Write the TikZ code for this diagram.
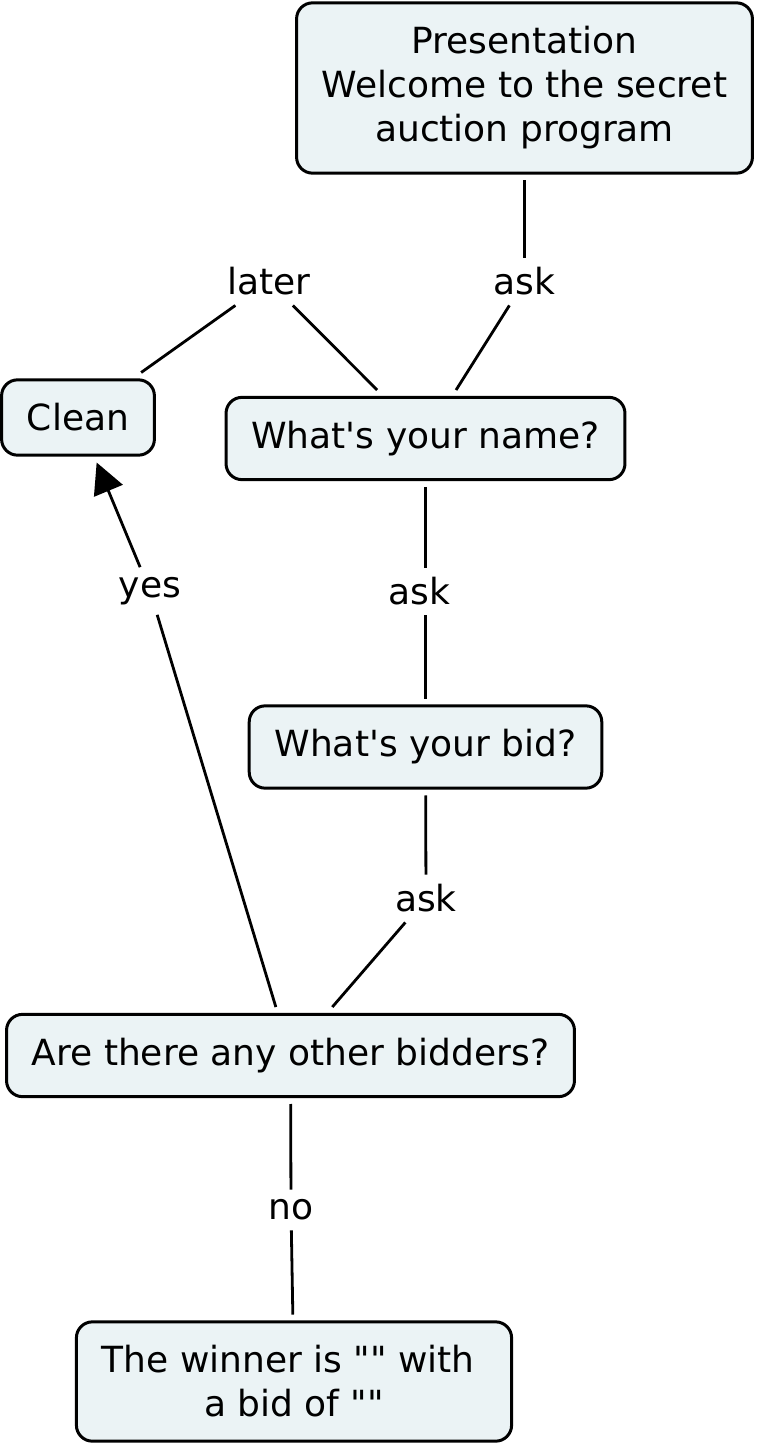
\documentclass[tikz,border=0pt]{standalone}
\usepackage{fontspec}
\usepackage{xcolor}
\usetikzlibrary{arrows.meta}
\newfontfamily\cmapfont{DejaVu Sans}
\definecolor{conceptfill}{RGB}{235,243,245}

\begin{document}
\begin{tikzpicture}[x=0.75pt,y=0.75pt,yscale=-1,xscale=1,
  concept/.style={draw, line width=2.25pt, rounded corners=12pt, fill=conceptfill, inner xsep=19pt, inner ysep=17.8pt, outer sep=5.5pt, align=center, font=\cmapfont\fontsize{27}{33}\selectfont},
  linkphrase/.style={inner xsep=6pt, inner ysep=7.5pt, outer sep=0pt, font=\cmapfont\fontsize{27}{33}\selectfont},
  conn/.style={line width=2.1pt}]

\useasboundingbox (0,0) rectangle (758,1449);

\draw (524.5,88) node [concept] (pres) {Presentation\\Welcome to the secret\\auction program};
\draw (78,417.5) node [concept] (clean) {Clean};
\draw (425.5,438.5) node [concept] (name) {What's your name?};
\draw (425.5,747) node [concept] (bid) {What's your bid?};
\draw (290.5,1055.5) node [concept] (bidders) {Are there any other bidders?};
\draw (294,1381.5) node [concept] (winner) {The winner is "" with\kern0.32em\\a bid of ""};

\draw (269,281.5) node [linkphrase] (later) {later};
\draw (524.5,281.5) node [linkphrase] (askname) {ask};
\draw (425.5,591.5) node [linkphrase] (askbid) {ask\kern0.32em};
\draw (426,898.5) node [linkphrase] (askmore) {ask};
\draw (150,591) node [linkphrase] (yes) {yes};
\draw (291,1210) node [linkphrase] (no) {no};

\draw [conn] (pres) -- (askname);
\draw [conn] (askname) -- (name);
\draw [conn] (name) -- (later);
\draw [conn] (later) -- (clean);
\draw [conn] (name) -- (askbid);
\draw [conn] (askbid) -- (bid);
\draw [conn] (bid) -- (askmore);
\draw [conn] (askmore) -- (bidders);
\draw [conn] (bidders) -- (yes);
\draw [conn, -{Triangle[length=23pt,width=23pt]}] (yes) -- (clean);
\draw [conn] (bidders) -- (no);
\draw [conn] (no) -- (winner);

\end{tikzpicture}
\end{document}
